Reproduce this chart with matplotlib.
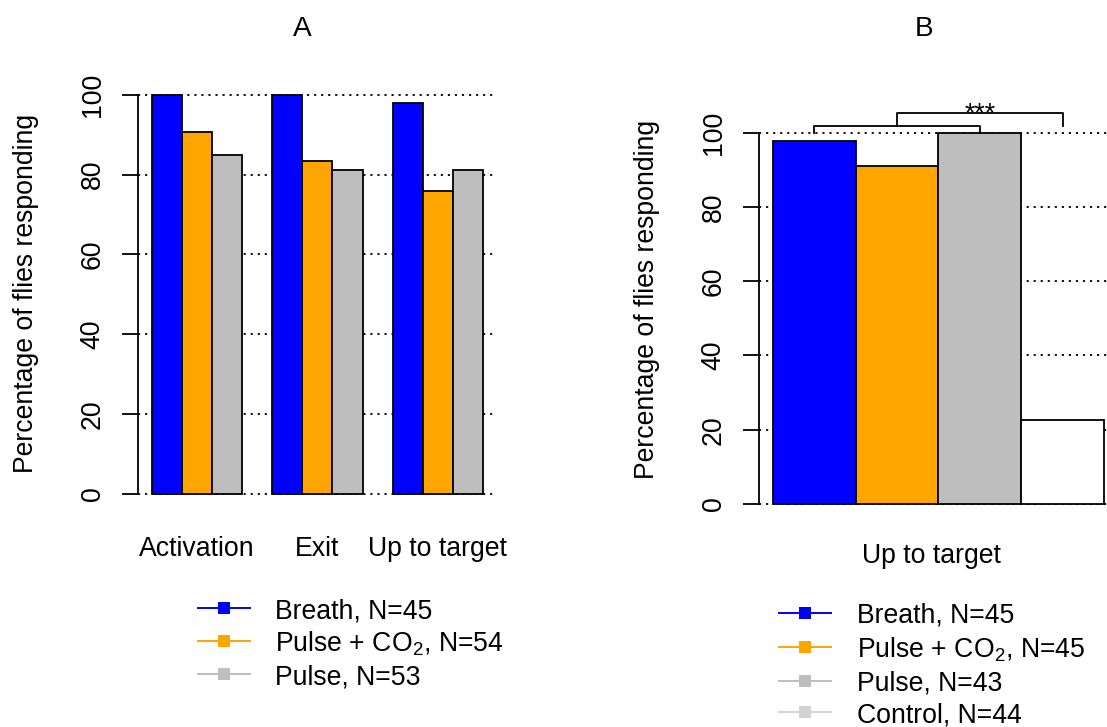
import matplotlib
matplotlib.use("Agg")
import matplotlib.pyplot as plt
from matplotlib.lines import Line2D
from matplotlib.transforms import blended_transform_factory

plt.rcParams['font.family'] = ['Liberation Sans', 'DejaVu Sans']
plt.rcParams['mathtext.fontset'] = 'custom'
plt.rcParams['mathtext.rm'] = 'Liberation Sans'

# ---------------- data ----------------
stages_a = ["Activation", "Exit", "Up to target"]
breath_a = [100.0, 100.0, 97.8]
pulse_co2_a = [90.7, 83.3, 75.9]
pulse_a = [84.9, 81.1, 81.1]
legend_a = ["Breath, N=45", "Pulse + CO$_\\mathregular{2}$, N=54", "Pulse, N=53"]

stage_b = "Up to target"
values_b = [97.8, 91.1, 100.0, 22.7]
legend_b = ["Breath, N=45", "Pulse + CO$_\\mathregular{2}$, N=45", "Pulse, N=43", "Control, N=44"]
signif_label = "***"

yticks = [0, 20, 40, 60, 80, 100]
ylabel = "Percentage of flies responding"

blue, orange, gray, white, lgray = "#0000FF", "#FFA500", "#BEBEBE", "#FFFFFF", "#D3D3D3"
colors_a = [blue, orange, gray]
colors_b = [blue, orange, gray, white]
legend_colors_b = [blue, orange, gray, lgray]

W, H = 1107, 727
FS = 19.2
LW = 1.3
fig = plt.figure(figsize=(W / 100, H / 100), dpi=100)


def rect(l, t, r, b):
    return [l / W, 1 - b / H, (r - l) / W, (b - t) / H]


def fy(py):
    return 1 - py / H


def fx(px):
    return px / W


def style_axis(ax, ylim):
    ax.set_ylim(*ylim)
    for s in ['top', 'right', 'bottom']:
        ax.spines[s].set_visible(False)
    ax.spines['left'].set_bounds(0, 100)
    ax.spines['left'].set_linewidth(LW)
    ax.set_xticks([])
    ax.set_yticks(yticks)
    ax.set_yticklabels([str(t) for t in yticks], rotation=90, va='center')
    ax.tick_params(axis='y', direction='out', length=11.5, width=LW,
                   pad=12, labelsize=FS)
    for t in yticks:
        ax.axhline(t, color='black', lw=LW, linestyle=(0, (1.2, 2.7)), zorder=1)


def legend(labels, cols, x0, x1, xt, ys):
    for lab, c, y in zip(labels, cols, ys):
        fig.add_artist(Line2D([fx(x0), fx(x1)], [fy(y), fy(y)], color=c, lw=1.4,
                              transform=fig.transFigure))
        fig.add_artist(Line2D([fx((x0 + x1) / 2)], [fy(y)], color=c, marker='s',
                              markersize=8.6, markeredgewidth=0, linestyle='none',
                              transform=fig.transFigure))
        fig.text(fx(xt), fy(y), lab, fontsize=FS, ha='left', va='center_baseline')


# ---------------- panel A ----------------
axA = fig.add_axes(rect(138.45, 78.7, 496.25, 510.0))
axA.set_xlim(0.56, 12.44)
style_axis(axA, (-4, 104))
series_a = [breath_a, pulse_co2_a, pulse_a]
for j, (vals, c) in enumerate(zip(series_a, colors_a)):
    lefts = [1 + 4 * g + j for g in range(len(stages_a))]
    axA.bar(lefts, vals, width=1, align='edge', color=c, edgecolor='black',
            linewidth=LW, zorder=2)
trA = blended_transform_factory(axA.transData, fig.transFigure)
for g, name in enumerate(stages_a):
    axA.text(1 + 4 * g + 1.5, fy(556), name, transform=trA, ha='center',
             va='baseline', fontsize=FS)
fig.text(fx(302), fy(36.5), "A", ha='center', va='baseline', fontsize=FS + 1)
fig.text(fx(26), fy(293), ylabel, rotation=90, ha='center', va='center', fontsize=FS)
legend(legend_a, colors_a, 198, 250, 275, [608, 641, 674])

# ---------------- panel B ----------------
axB = fig.add_axes(rect(759.4, 79.2, 1117.6, 520.3))
axB.set_xlim(0.84, 5.16)
style_axis(axB, (-4.4, 114.4))
xs_b = [1 + i for i in range(len(values_b))]
axB.bar(xs_b, values_b, width=1, align='edge', color=colors_b, edgecolor='black',
        linewidth=LW, zorder=2)
centers = [x + 0.5 for x in xs_b]
# bracket 1: Breath .. Pulse (over the first three bars)
y1 = 101.9
axB.plot([centers[0], centers[0], centers[2], centers[2]], [100, y1, y1, 100],
         color='black', lw=LW, clip_on=False, zorder=3)
# bracket 2: group of three .. Control
y2 = 105.2
mid = centers[1]
axB.plot([mid, mid, centers[3], centers[3]], [y1, y2, y2, y1],
         color='black', lw=LW, clip_on=False, zorder=3)
axB.text((mid + centers[3]) / 2, 103.2, signif_label, ha='center', va='baseline',
         fontsize=FS)
trB = blended_transform_factory(axB.transData, fig.transFigure)
axB.text(2.92, fy(563.3), stage_b, transform=trB, ha='center', va='baseline',
         fontsize=FS)
fig.text(fx(924), fy(36.5), "B", ha='center', va='baseline', fontsize=FS + 1)
fig.text(fx(647), fy(299), ylabel, rotation=90, ha='center', va='center', fontsize=FS)
legend(legend_b, legend_colors_b, 779, 831, 857, [612.7, 646.7, 680.7, 712])

fig.savefig("out.png", dpi=100)
